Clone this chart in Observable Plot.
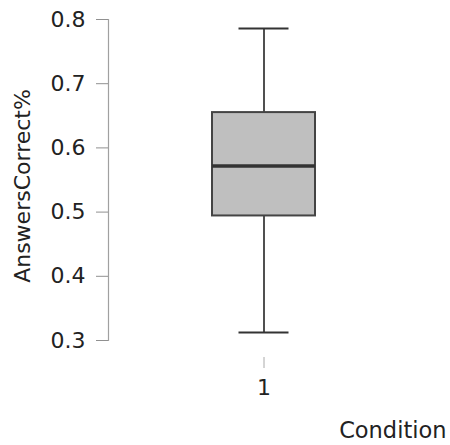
<!DOCTYPE html>
<html>
<head>
<meta charset="utf-8">
<script src="https://cdn.jsdelivr.net/npm/d3@7"></script>
<script src="https://cdn.jsdelivr.net/npm/@observablehq/plot@0.6"></script>
<style>
  body { margin: 0; background: #fff; }
  #chart svg { display: block; }
</style>
</head>
<body>
<div id="chart"></div>
<script>
const conditions = ["1"];
const lowerWhisker = [0.3125];
const q1 = [0.494];
const median = [0.572];
const q3 = [0.655];
const upperWhisker = [0.786];
const yTicks = [0.3, 0.4, 0.5, 0.6, 0.7, 0.8];
const yLabel = "AnswersCorrect%";
const xLabel = "Condition";

const rows = conditions.map((c, i) => ({
  cond: c, lo: lowerWhisker[i], q1: q1[i], med: median[i], q3: q3[i], hi: upperWhisker[i]
}));

const font = "DejaVu Sans";
const chart = Plot.plot({
  width: 450,
  height: 445,
  marginLeft: 108,
  marginRight: 32,
  marginTop: 19,
  marginBottom: 105,
  style: { fontFamily: font, fontSize: "22px", color: "#222", background: "#fff" },
  x: { type: "band", domain: conditions, padding: 0.5, axis: null },
  y: { domain: [0.3, 0.8], axis: null },
  marks: [
    Plot.frame({ anchor: "left", stroke: "#a0a0a0", strokeWidth: 1.2 }),
    Plot.axisY({ ticks: yTicks, tickSize: 12, tickPadding: 11, tickFormat: d3.format(".1f"), label: null, stroke: "#909090", fill: "#222", fontSize: 22 }),
    Plot.axisX({ tickSize: 11, dy: 17, tickPadding: 11, label: null, stroke: "#aaa", fill: "#222", fontSize: 22 }),
    Plot.ruleX(rows, { x: "cond", y1: "q3", y2: "hi", stroke: "#505050", strokeWidth: 2 }),
    Plot.ruleX(rows, { x: "cond", y1: "lo", y2: "q1", stroke: "#505050", strokeWidth: 2 }),
    Plot.tickY(rows, { x: "cond", y: "hi", insetLeft: 26.5, insetRight: 26.5, stroke: "#333", strokeWidth: 2 }),
    Plot.tickY(rows, { x: "cond", y: "lo", insetLeft: 26.5, insetRight: 26.5, stroke: "#333", strokeWidth: 2 }),
    Plot.barY(rows, { x: "cond", y1: "q1", y2: "q3", fill: "#bfbfbf", stroke: "#444", strokeWidth: 2 }),
    Plot.tickY(rows, { x: "cond", y: "med", stroke: "#333", strokeWidth: 3.5 }),
    Plot.text([yLabel], { frameAnchor: "left", dx: -86, dy: 6, rotate: -90, fill: "#222", fontSize: 22, textAnchor: "middle" }),
    Plot.text([xLabel], { frameAnchor: "bottom-right", dx: 28, dy: 97, textAnchor: "end", lineAnchor: "bottom", fill: "#222", fontSize: 22.5 })
  ]
});
document.getElementById("chart").appendChild(chart);
</script>
</body>
</html>
